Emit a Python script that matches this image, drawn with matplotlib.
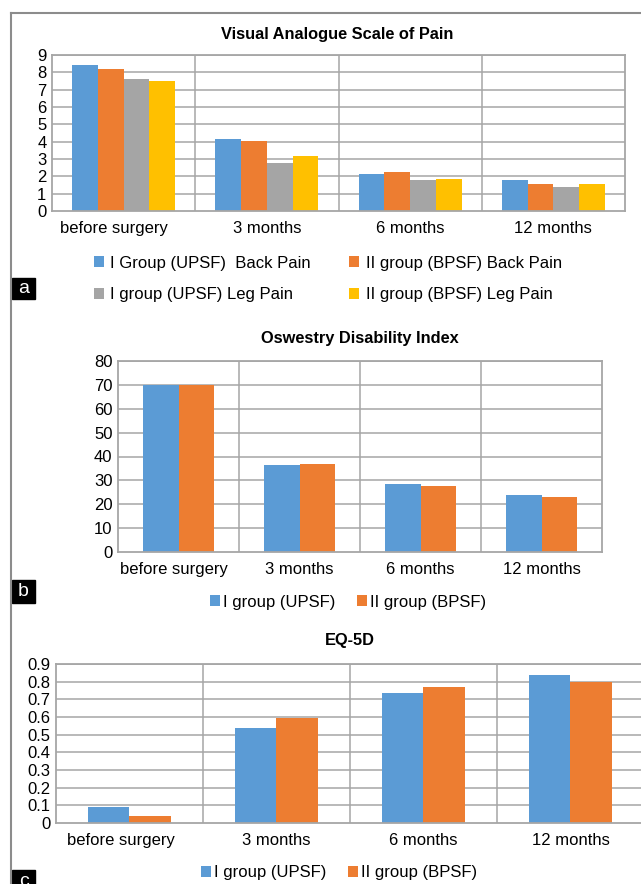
import numpy as np
import matplotlib
matplotlib.use("Agg")
import matplotlib.pyplot as plt
from matplotlib.patches import Rectangle
from matplotlib.transforms import ScaledTranslation

plt.rcParams['font.family'] = ['Liberation Sans', 'DejaVu Sans']

categories = ['before surgery', '3 months', '6 months', '12 months']

# panel a - VAS
vas_labels = ['I Group (UPSF)  Back Pain', 'II group (BPSF) Back Pain',
              'I group (UPSF) Leg Pain', 'II group (BPSF) Leg Pain']
vas_back_1 = [8.42, 4.17, 2.13, 1.78]
vas_back_2 = [8.18, 4.05, 2.25, 1.55]
vas_leg_1 = [7.6, 2.79, 1.78, 1.38]
vas_leg_2 = [7.48, 3.18, 1.84, 1.55]

# panel b - ODI
odi_labels = ['I group (UPSF)', 'II group (BPSF)']
odi_1 = [70, 36.5, 28.5, 23.9]
odi_2 = [70, 36.9, 27.7, 23.1]

# panel c - EQ-5D
eq_1 = [0.089, 0.536, 0.735, 0.837]
eq_2 = [0.038, 0.595, 0.769, 0.80]

colors = ['#5B9BD5', '#ED7D31', '#A5A5A5', '#FFC000']
grid_c = '#A6A6A6'

W, H = 641, 884
fig = plt.figure(figsize=(W / 100, H / 100), dpi=100)


def px_axes(left, top, right, bottom):
    return fig.add_axes([left / W, 1 - bottom / H, (right - left) / W, (bottom - top) / H])


def style(ax, ymax, step, fmt, first_shift):
    n = len(categories)
    ax.set_xlim(0, n)
    ax.set_ylim(0, ymax)
    ticks = np.arange(0, ymax + step / 2, step)
    ax.set_yticks(ticks)
    ax.set_yticklabels([fmt(t) for t in ticks], fontsize=12)
    ax.set_xticks(np.arange(n) + 0.5)
    ax.set_xticklabels(categories, fontsize=12)
    ax.tick_params(length=0, pad=4)
    ax.tick_params(axis='x', pad=7)
    # excel nudges the first label to the left
    lbl = ax.get_xticklabels()[0]
    lbl.set_transform(lbl.get_transform() + ScaledTranslation(first_shift / 100, 0, fig.dpi_scale_trans))
    for t in ticks[1:]:
        ax.axhline(t, color=grid_c, lw=1.1, zorder=0)
    for k in range(1, n):
        ax.axvline(k, color=grid_c, lw=1.1, zorder=0)
    for s in ax.spines.values():
        s.set_color(grid_c)
        s.set_linewidth(1.3)


def bars(ax, series, width):
    n = len(series)
    x = np.arange(len(categories)) + 0.5
    handles = []
    for i, vals in enumerate(series):
        off = (i - (n - 1) / 2) * width
        h = ax.bar(x + off, vals, width, color=colors[i], zorder=2)
        handles.append(h)
    return handles


def tag(letter, y0, y1):
    fig.patches.append(Rectangle((12 / W, 1 - y1 / H), 23 / W, (y1 - y0) / H,
                                 transform=fig.transFigure, color='black'))
    fig.text(23.5 / W, 1 - (y0 + y1) / 2 / H, letter, color='white', fontsize=14,
             ha='center', va='center')


# outer frame
fig.add_artist(plt.Line2D([11 / W, 11 / W], [0, 1 - 13 / H], color='#8C8C8C', lw=1.5))
fig.add_artist(plt.Line2D([11 / W, 1], [1 - 13 / H, 1 - 13 / H], color='#8C8C8C', lw=1.5))

# a
ax1 = px_axes(52, 55, 625, 211)
style(ax1, 9, 1, lambda t: f'{t:g}', -10)
h = bars(ax1, [vas_back_1, vas_back_2, vas_leg_1, vas_leg_2], 0.18)
fig.text(337 / W, 1 - 35 / H, 'Visual Analogue Scale of Pain', fontsize=11.8,
         fontweight='bold', ha='center', va='center')
order = [0, 2, 1, 3]
fig.legend([h[i] for i in order], [vas_labels[i] for i in order], ncol=2,
           loc='center', bbox_to_anchor=(328 / W, 1 - 279 / H), frameon=False,
           fontsize=12, handlelength=0.6, handleheight=0.6, handletextpad=0.4,
           columnspacing=2.3, labelspacing=1.0)
tag('a', 278, 299)

# b
ax2 = px_axes(118, 361, 602, 552)
style(ax2, 80, 10, lambda t: f'{t:g}', -5)
h = bars(ax2, [odi_1, odi_2], 0.29)
fig.text(360 / W, 1 - 339 / H, 'Oswestry Disability Index', fontsize=11.8,
         fontweight='bold', ha='center', va='center')
fig.legend(h, odi_labels, ncol=2, loc='center', bbox_to_anchor=(348 / W, 1 - 602 / H),
           frameon=False, fontsize=12, handlelength=0.6, handleheight=0.6,
           handletextpad=0.2, columnspacing=1.3)
tag('b', 580, 603)

# c
ax3 = px_axes(56, 664, 644, 823)
style(ax3, 0.9, 0.1, lambda t: f'{t:.1f}'.rstrip('0').rstrip('.') if t else '0', -9)
h = bars(ax3, [eq_1, eq_2], 0.285)
fig.text(350 / W, 1 - 641 / H, 'EQ-5D', fontsize=11.8,
         fontweight='bold', ha='center', va='center')
fig.legend(h, odi_labels, ncol=2, loc='center', bbox_to_anchor=(339 / W, 1 - 873 / H),
           frameon=False, fontsize=12, handlelength=0.6, handleheight=0.6,
           handletextpad=0.2, columnspacing=1.3)
tag('c', 870, 892)

fig.savefig('out.png', dpi=100)
